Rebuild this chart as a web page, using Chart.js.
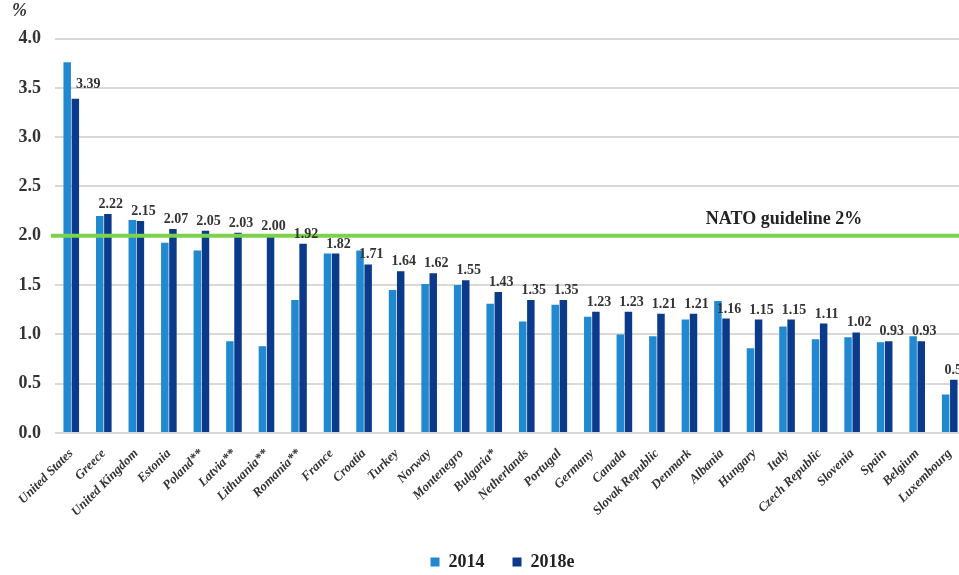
<!DOCTYPE html>
<html>
<head>
<meta charset="utf-8">
<script src="https://cdn.jsdelivr.net/npm/chart.js@4.4.1/dist/chart.umd.min.js"></script>
<style>
  html, body { margin: 0; padding: 0; background: #fff; overflow: hidden; }
  #wrap { position: absolute; left: 0; top: 0; width: 966px; height: 581px; }
</style>
</head>
<body>
<div id="wrap"><canvas id="myChart" width="966" height="581"></canvas></div>
<script>
// countries, sorted by 2018e
const countries = ["United States", "Greece", "United Kingdom", "Estonia", "Poland**", "Latvia**",
  "Lithuania**", "Romania**", "France", "Croatia", "Turkey", "Norway", "Montenegro", "Bulgaria*",
  "Netherlands", "Portugal", "Germany", "Canada", "Slovak Republic", "Denmark", "Albania",
  "Hungary", "Italy", "Czech Republic", "Slovenia", "Spain", "Belgium", "Luxembourg"];

// 2014 values (no labels in the picture)
const values2014 = [3.76, 2.20, 2.16, 1.93, 1.85, 0.93, 0.88, 1.35, 1.82, 1.85, 1.45, 1.51, 1.50, 1.31,
  1.13, 1.30, 1.18, 1.00, 0.98, 1.15, 1.34, 0.86, 1.08, 0.95, 0.97, 0.92, 0.98, 0.39];

// 2018e values (labelled)
const values2018 = [3.39, 2.22, 2.15, 2.07, 2.05, 2.03, 2.00, 1.92, 1.82, 1.71, 1.64, 1.62, 1.55, 1.43,
  1.35, 1.35, 1.23, 1.23, 1.21, 1.21, 1.16, 1.15, 1.15, 1.11, 1.02, 0.93, 0.93, 0.54];

const yTicks = [0, 0.5, 1.0, 1.5, 2.0, 2.5, 3.0, 3.5, 4.0];
const guideline = 2.0;
const guidelineText = "NATO guideline 2%";

const serif = "'Liberation Serif', 'DejaVu Serif', serif";

// green 2% line + its caption
const guidelinePlugin = {
  id: "guideline",
  afterLayout(chart) {
    // nudge the legend a bit left, it sits left of centre in the original
    chart.legend.left -= 8;
    chart.legend.right -= 8;
  },
  afterDatasetsDraw(chart) {
    const { ctx, chartArea, scales } = chart;
    const y = scales.y.getPixelForValue(guideline);
    ctx.save();
    ctx.strokeStyle = "#7dd24c";
    ctx.lineWidth = 4;
    ctx.beginPath();
    ctx.moveTo(chartArea.left - 4, y);
    ctx.lineTo(chartArea.right, y);
    ctx.stroke();
    ctx.fillStyle = "#222";
    ctx.font = "bold 18px " + serif;
    ctx.textAlign = "center";
    ctx.textBaseline = "alphabetic";
    ctx.fillText(guidelineText, 784, y - 12);
    ctx.restore();
  }
};

// value labels over the 2018e bars
const labelPlugin = {
  id: "barLabels",
  afterDatasetsDraw(chart) {
    const { ctx } = chart;
    const meta = chart.getDatasetMeta(1);
    ctx.save();
    ctx.fillStyle = "#333";
    ctx.font = "bold 14px " + serif;
    ctx.textAlign = "center";
    ctx.textBaseline = "alphabetic";
    meta.data.forEach((bar, i) => {
      let x = bar.x + 3;
      let y = bar.y - 6;
      if (i === 0) { x = bar.x + 13; y = bar.y - 11; }
      ctx.fillText(values2018[i].toFixed(2), x, y);
    });
    ctx.restore();
  }
};

const myChartRef = document.getElementById("myChart").getContext("2d");

new Chart(myChartRef, {
  type: "bar",
  data: {
    labels: countries,
    datasets: [
      {
        label: "2014",
        data: values2014,
        backgroundColor: "#2089d0",
        categoryPercentage: 0.5,
        barPercentage: 0.92
      },
      {
        label: "2018e",
        data: values2018,
        backgroundColor: "#0b3a8a",
        categoryPercentage: 0.5,
        barPercentage: 0.92
      }
    ]
  },
  options: {
    responsive: false,
    animation: false,
    layout: { padding: { left: 12, right: 0, top: 0, bottom: 0 } },
    plugins: {
      title: {
        display: true,
        text: "%",
        align: "start",
        color: "#333",
        font: { family: serif, size: 18, style: "italic" },
        padding: { top: 1, bottom: 16 }
      },
      legend: {
        position: "bottom",
        fullSize: false,
        labels: {
          boxWidth: 9,
          boxHeight: 9,
          padding: 28,
          color: "#222",
          font: { family: serif, size: 18, weight: "bold", lineHeight: 1 }
        }
      },
      tooltip: { enabled: false }
    },
    scales: {
      x: {
        afterFit(scale) { scale.height = 92; },
        grid: { display: false },
        border: { display: false },
        ticks: {
          autoSkip: false,
          maxRotation: 45,
          minRotation: 45,
          padding: 5,
          color: "#333",
          font: { family: serif, size: 13, style: "italic", weight: "bold" }
        }
      },
      y: {
        min: 0,
        max: 4,
        afterFit(scale) { scale.width = 43; },
        afterBuildTicks(axis) {
          axis.ticks = yTicks.map(v => ({ value: v }));
        },
        grid: { color: "#d9d9d9", lineWidth: 2, drawTicks: false },
        border: { display: false },
        ticks: {
          padding: 14,
          color: "#333",
          font: { family: serif, size: 18, weight: "bold" },
          callback: v => Number(v).toFixed(1)
        }
      }
    }
  },
  plugins: [guidelinePlugin, labelPlugin]
});
</script>
</body>
</html>
